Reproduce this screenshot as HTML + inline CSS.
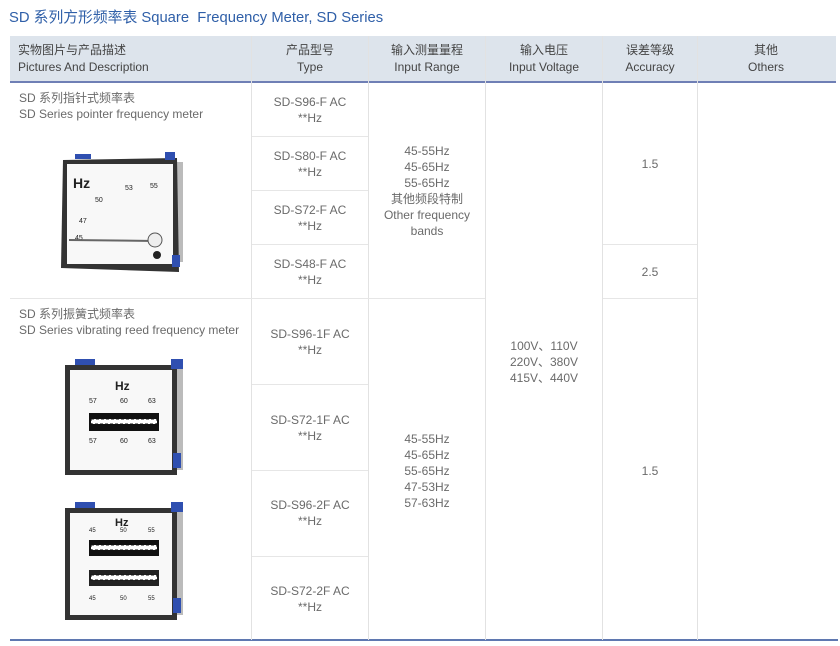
<!DOCTYPE html>
<html><head><meta charset="utf-8"><style>
body{margin:0;width:840px;height:646px;background:#fff;position:relative;overflow:hidden;font-family:"Liberation Sans","Noto Sans CJK SC",sans-serif;}
.a{position:absolute}
.t{position:absolute;color:#6a6a6a;font-size:12px;line-height:16px;text-align:center}
.vl{position:absolute;width:1px;background:#e2e2e2}
.hl{position:absolute;height:1px;background:#e6e6e6}
.h{position:absolute;top:42px;color:#444;font-size:12px;line-height:17px;text-align:center}
</style></head><body>
<div class="a" style="left:9px;top:6px;font-size:14.8px;color:#2f5fa8">SD 系列方形频率表 Square&nbsp; Frequency Meter, SD Series</div>
<div class="a" style="left:10px;top:36px;width:826px;height:45px;background:#dde4ec"></div>
<div class="a" style="left:10px;top:81px;width:826px;height:2px;background:#6f7fb5"></div>
<div class="a" style="left:10px;top:639px;width:828px;height:2px;background:#5f78b0"></div>
<div class="vl" style="left:251px;top:36px;height:604px"></div>
<div class="vl" style="left:368px;top:36px;height:604px"></div>
<div class="vl" style="left:485px;top:36px;height:604px"></div>
<div class="vl" style="left:602px;top:36px;height:604px"></div>
<div class="vl" style="left:697px;top:36px;height:604px"></div>
<div class="hl" style="left:252px;top:136px;width:116px"></div>
<div class="hl" style="left:252px;top:190px;width:116px"></div>
<div class="hl" style="left:252px;top:244px;width:116px"></div>
<div class="hl" style="left:603px;top:244px;width:94px"></div>
<div class="hl" style="left:10px;top:298px;width:475px"></div>
<div class="hl" style="left:603px;top:298px;width:94px"></div>
<div class="hl" style="left:252px;top:384px;width:116px"></div>
<div class="hl" style="left:252px;top:470px;width:116px"></div>
<div class="hl" style="left:252px;top:556px;width:116px"></div>
<div class="h" style="left:18px;text-align:left">实物图片与产品描述<br>Pictures And Description</div>
<div class="h" style="left:252px;width:116px">产品型号<br>Type</div>
<div class="h" style="left:369px;width:116px">输入测量量程<br>Input Range</div>
<div class="h" style="left:486px;width:116px">输入电压<br>Input Voltage</div>
<div class="h" style="left:603px;width:94px">误差等级<br>Accuracy</div>
<div class="h" style="left:698px;width:136px">其他<br>Others</div>
<div class="t" style="left:19px;top:90px;text-align:left">SD 系列指针式频率表<br>SD Series pointer frequency meter</div>
<div class="t" style="left:19px;top:306px;text-align:left">SD 系列振簧式频率表<br>SD Series vibrating reed frequency meter</div>
<div class="t" style="left:252px;width:116px;top:94px">SD-S96-F AC<br>**Hz</div>
<div class="t" style="left:252px;width:116px;top:148px">SD-S80-F AC<br>**Hz</div>
<div class="t" style="left:252px;width:116px;top:202px">SD-S72-F AC<br>**Hz</div>
<div class="t" style="left:252px;width:116px;top:256px">SD-S48-F AC<br>**Hz</div>
<div class="t" style="left:252px;width:116px;top:326px">SD-S96-1F AC<br>**Hz</div>
<div class="t" style="left:252px;width:116px;top:412px">SD-S72-1F AC<br>**Hz</div>
<div class="t" style="left:252px;width:116px;top:497px">SD-S96-2F AC<br>**Hz</div>
<div class="t" style="left:252px;width:116px;top:583px">SD-S72-2F AC<br>**Hz</div>
<div class="t" style="left:369px;width:116px;top:143px">45-55Hz<br>45-65Hz<br>55-65Hz<br>其他频段特制<br>Other frequency<br>bands</div>
<div class="t" style="left:369px;width:116px;top:431px">45-55Hz<br>45-65Hz<br>55-65Hz<br>47-53Hz<br>57-63Hz</div>
<div class="t" style="left:486px;width:116px;top:338px">100V、110V<br>220V、380V<br>415V、440V</div>
<div class="t" style="left:603px;width:94px;top:156px">1.5</div>
<div class="t" style="left:603px;width:94px;top:264px">2.5</div>
<div class="t" style="left:603px;width:94px;top:463px">1.5</div>
<svg class="a" style="left:55px;top:150px" width="140" height="125">
<rect x="120" y="12" width="8" height="100" fill="#bbb"/>
<path d="M8 10 L122 8 L124 122 L6 118 Z" fill="#333"/>
<rect x="12" y="14" width="106" height="100" fill="#f8f8f8"/>
<rect x="110" y="2" width="10" height="8" fill="#2f4fb0"/><rect x="20" y="4" width="16" height="5" fill="#2f4fb0"/>
<rect x="117" y="105" width="8" height="12" fill="#2f4fb0"/>
<text x="18" y="38" font-size="14" font-weight="bold" fill="#222" font-family="Liberation Sans">Hz</text>
<text x="70" y="40" font-size="7" fill="#222">53</text><text x="95" y="38" font-size="7" fill="#222">55</text>
<text x="40" y="52" font-size="7" fill="#222">50</text><text x="24" y="73" font-size="7" fill="#222">47</text><text x="20" y="90" font-size="7" fill="#222">45</text>
<line x1="14" y1="90" x2="100" y2="91" stroke="#666" stroke-width="2"/>
<circle cx="100" cy="90" r="7" fill="#eee" stroke="#555"/><circle cx="102" cy="105" r="4" fill="#222"/>
</svg>
<svg class="a" style="left:63px;top:355px" width="130" height="125">
<rect x="112" y="10" width="8" height="105" fill="#bbb"/>
<rect x="2" y="10" width="112" height="110" fill="#333"/>
<rect x="7" y="15" width="102" height="100" fill="#f8f8f8"/>
<rect x="12" y="4" width="20" height="6" fill="#2f4fb0"/><rect x="108" y="4" width="12" height="10" fill="#2f4fb0"/><rect x="110" y="98" width="8" height="15" fill="#2f4fb0"/>
<text x="52" y="35" font-size="12" font-weight="bold" fill="#222">Hz</text>
<text x="26" y="48" font-size="7" fill="#222">57</text><text x="57" y="48" font-size="7" fill="#222">60</text><text x="85" y="48" font-size="7" fill="#222">63</text>
<rect x="26" y="58" width="70" height="18" fill="#111"/><rect x="28" y="64" width="66" height="5" fill="#fff" stroke="#111" stroke-dasharray="3 2"/>
<text x="26" y="88" font-size="7" fill="#222">57</text><text x="57" y="88" font-size="7" fill="#222">60</text><text x="85" y="88" font-size="7" fill="#222">63</text>
</svg>
<svg class="a" style="left:63px;top:500px" width="130" height="125">
<rect x="112" y="10" width="8" height="105" fill="#bbb"/>
<rect x="2" y="8" width="112" height="112" fill="#333"/>
<rect x="7" y="13" width="102" height="102" fill="#f8f8f8"/>
<rect x="12" y="2" width="20" height="6" fill="#2f4fb0"/><rect x="108" y="2" width="12" height="10" fill="#2f4fb0"/><rect x="110" y="98" width="8" height="15" fill="#2f4fb0"/>
<text x="52" y="26" font-size="11" font-weight="bold" fill="#222">Hz</text>
<text x="26" y="32" font-size="6" fill="#222">45</text><text x="57" y="32" font-size="6" fill="#222">50</text><text x="85" y="32" font-size="6" fill="#222">55</text>
<rect x="26" y="40" width="70" height="16" fill="#111"/><rect x="28" y="45" width="66" height="5" fill="#fff" stroke="#111" stroke-dasharray="3 2"/>
<rect x="26" y="70" width="70" height="16" fill="#222"/><rect x="28" y="75" width="66" height="5" fill="#fff" stroke="#111" stroke-dasharray="3 2"/>
<text x="26" y="100" font-size="6" fill="#222">45</text><text x="57" y="100" font-size="6" fill="#222">50</text><text x="85" y="100" font-size="6" fill="#222">55</text>
</svg>
</body></html>
